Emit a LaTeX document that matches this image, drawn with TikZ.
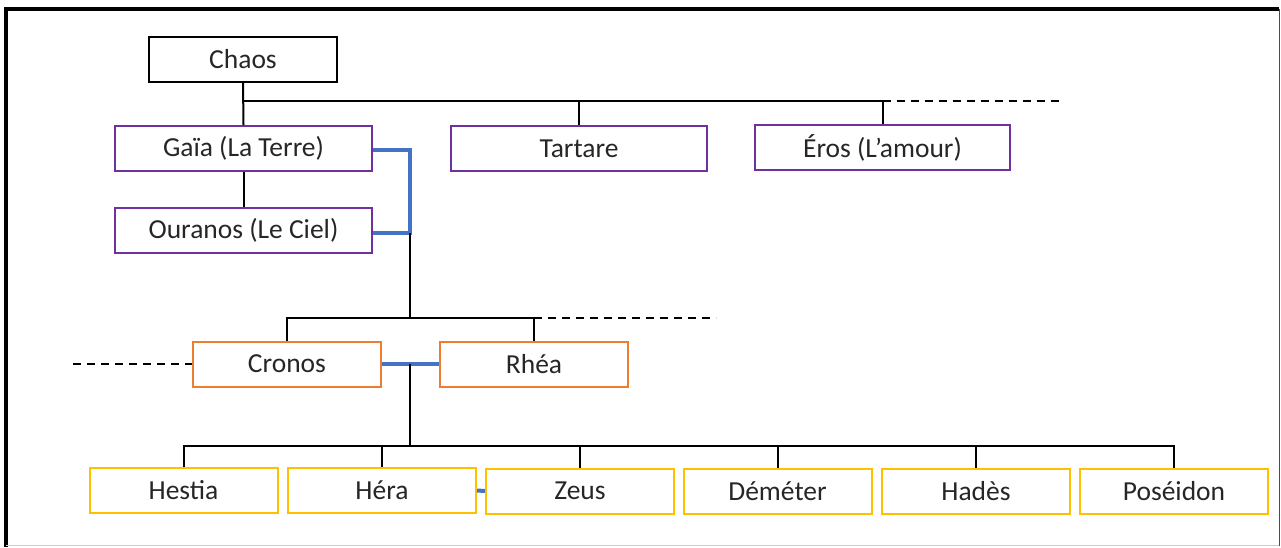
\documentclass[tikz,border=0pt]{standalone}
\usepackage{fontspec}
\setmainfont{Carlito}
\definecolor{purp}{HTML}{7030A0}
\definecolor{orng}{HTML}{ED7D31}
\definecolor{gold}{HTML}{FFC000}
\definecolor{blu}{HTML}{4472C4}
\begin{document}
\begin{tikzpicture}[x=1pt,y=-1pt,
  box/.style={draw, line width=2pt, inner sep=0pt, minimum height=45pt, text=black!85,
    font=\fontsize{27.5}{32}\selectfont},
  small/.style={box, minimum width=188pt},
  wide/.style={box, minimum width=257pt},
  link/.style={line width=2pt},
  spouse/.style={blu, line width=4pt},
  cont/.style={link, dashed, dash pattern=on 8pt off 6pt}]
\useasboundingbox (0,0) rectangle (1281,547);
% frame
\draw[line width=4pt] (6,547) -- (6,9) -- (1279,9);
\draw[black!70, line width=1pt] (1279,9) -- (1279,545.5);
\draw[black!20, line width=1.2pt] (6,545.5) -- (1279,545.5);
% nodes
\node[small, draw=black] (chaos) at (243,59) {Chaos};
\node[wide, draw=purp] (gaia) at (243.5,148.5) {Gaïa (La Terre)};
\node[wide, draw=purp] (ouranos) at (243.5,230.5) {Ouranos (Le Ciel)};
\node[wide, draw=purp, minimum width=256pt] (tartare) at (579,148.5) {Tartare};
\node[wide, draw=purp, minimum width=255pt] (eros) at (882.5,147.5) {Éros (L’amour)};
\node[small, draw=orng] (cronos) at (287,364) {Cronos};
\node[small, draw=orng] (rhea) at (534,364) {Rhéa};
\node[small, draw=gold] (hestia) at (183.5,490.5) {Hestia};
\node[small, draw=gold] (hera) at (382,490.5) {Héra};
\node[small, draw=gold] (zeus) at (580,491) {Zeus};
\node[small, draw=gold] (demeter) at (777.5,491) {Déméter};
\node[small, draw=gold] (hades) at (976,491.5) {Hadès};
\node[small, draw=gold] (poseidon) at (1174,491.5) {Poséidon};
% coordinates
\coordinate (bus1) at (243,101);
\coordinate (bus1end) at (1062,101);
\coordinate (m1) at (410,233);
\coordinate (bus2) at (410,318);
\coordinate (bus2end) at (716,318);
\coordinate (left2) at (73,364);
\coordinate (m2) at (410,364);
\coordinate (bus3) at (410,446);
% generation 1
\draw[link] (chaos.south) -- (gaia.north);
\draw[link] (bus1) -- (eros.north |- bus1);
\draw[cont] (eros.north |- bus1) -- (bus1end);
\draw[link] (tartare.north |- bus1) -- (tartare.north);
\draw[link] (eros.north |- bus1) -- (eros.north);
\draw[link] (gaia.south) -- (ouranos.north);
\draw[spouse] (gaia.east |- 0,150) -- (410,150) |- (ouranos.east |- m1);
% generation 2
\draw[link] (m1) -- (bus2);
\draw[link] (cronos.north) |- (bus2) -| (rhea.north);
\draw[cont] (rhea.north |- bus2) -- (bus2end);
\draw[cont] (left2) -- (cronos.west);
\draw[spouse] (cronos.east) -- (rhea.west);
% generation 3
\draw[link] (m2) -- (bus3);
\draw[link] (hestia.north) |- (bus3) -| (poseidon.north);
\foreach \n in {hera,zeus,demeter,hades}
  \draw[link] (\n.north |- bus3) -- (\n.north);
\draw[spouse] (hera.east) -- (zeus.west);
\end{tikzpicture}
\end{document}
